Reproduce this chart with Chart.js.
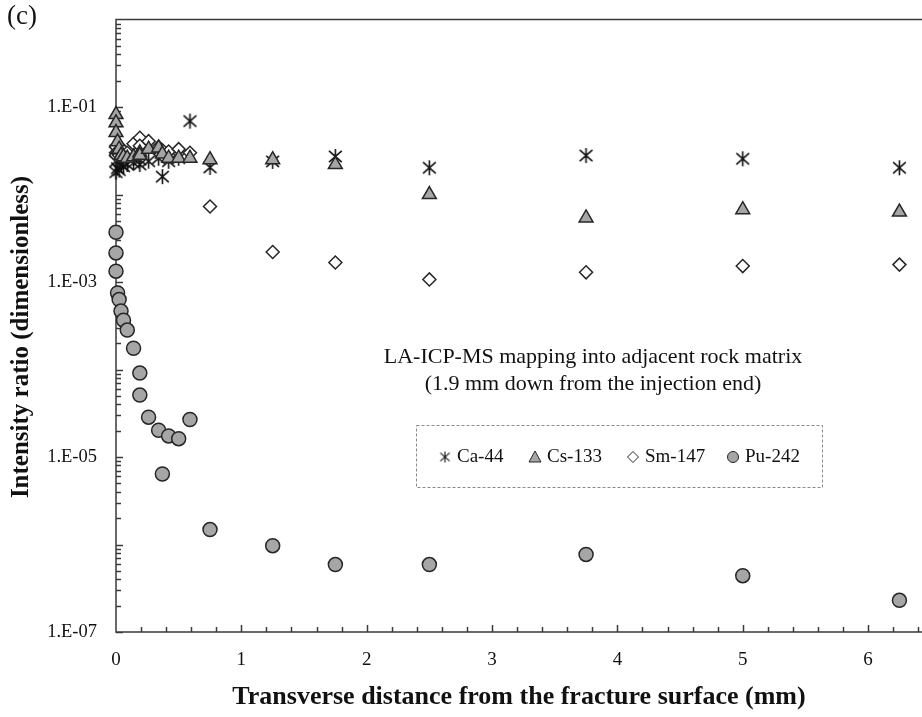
<!DOCTYPE html>
<html lang="en">
<head>
<meta charset="UTF-8" />
<title>LA-ICP-MS mapping into adjacent rock matrix</title>
<!-- Chart.js desde CDN -->
<script src="https://cdn.jsdelivr.net/npm/chart.js@4.4.1/dist/chart.umd.min.js"></script>
<style>
  body { margin: 0; background: #fff; }
  #wrap { position: relative; width: 922px; height: 717px; }
</style>
</head>
<body>
<div id="wrap"><canvas id="chartMapping" width="922" height="717"></canvas></div>
<script>
// distance from the fracture surface (mm), same spots for every isotope
const distance = [0, 0, 0, 0.0125, 0.025, 0.04, 0.06, 0.09, 0.14, 0.19, 0.19, 0.26,
                  0.34, 0.37, 0.42, 0.5, 0.59, 0.75, 1.25, 1.75, 2.5, 3.75, 5.0, 6.25];

// intensity ratios (dimensionless)
const ca44  = [0.032, 0.024, 0.018, 0.020, 0.019, 0.022, 0.021, 0.022, 0.023, 0.022, 0.025, 0.024,
               0.026, 0.016, 0.024, 0.026, 0.069, 0.0204, 0.0239, 0.0272, 0.0202, 0.0279, 0.0256, 0.0202];
const cs133 = [0.082, 0.066, 0.051, 0.040, 0.033, 0.028, 0.027, 0.026, 0.027, 0.030, 0.028, 0.033,
               0.034, 0.029, 0.026, 0.026, 0.026, 0.025, 0.025, 0.022, 0.0100, 0.0054, 0.0067, 0.0063];
const sm147 = [0.035, 0.030, 0.028, 0.030, 0.028, 0.030, 0.032, 0.030, 0.038, 0.0445, 0.036, 0.0407,
               0.035, 0.032, 0.031, 0.033, 0.030, 0.0073, 0.0022, 0.00167, 0.00107, 0.00129, 0.00152, 0.00158];
const pu242 = [3.7e-3, 2.15e-3, 1.33e-3, 7.5e-4, 6.3e-4, 4.65e-4, 3.66e-4, 2.82e-4, 1.75e-4, 9.1e-5, 5.1e-5, 2.85e-5,
               2.02e-5, 6.4e-6, 1.74e-5, 1.62e-5, 2.68e-5, 1.48e-6, 9.7e-7, 5.9e-7, 5.9e-7, 7.7e-7, 4.4e-7, 2.3e-7];

const xTicks = [0, 1, 2, 3, 4, 5, 6];
const yLabels = [1e-1, 1e-3, 1e-5, 1e-7];
const seriesNames = ['Ca-44', 'Cs-133', 'Sm-147', 'Pu-242'];

const serif = '"Liberation Serif", "Times New Roman", serif';
const grey = '#a6a6a6';
const dark = '#262626';

// asterisk marker (vertical bar + X), Chart.js takes a canvas as pointStyle
function makeStar(size, lw) {
    const c = document.createElement('canvas');
    c.width = size; c.height = size;
    const g = c.getContext('2d');
    const m = size / 2, r = size / 2 - 1;
    g.strokeStyle = '#111';
    g.lineWidth = lw;
    g.beginPath();
    g.moveTo(m, m - r); g.lineTo(m, m + r);
    g.moveTo(m - r * 0.85, m - r * 0.75); g.lineTo(m + r * 0.85, m + r * 0.75);
    g.moveTo(m + r * 0.85, m - r * 0.75); g.lineTo(m - r * 0.85, m + r * 0.75);
    g.stroke();
    return c;
}
const star = makeStar(17, 1.6);
const starSmall = makeStar(13, 1.1);

function points(ys) {
    return distance.map((d, i) => ({ x: d, y: ys[i] }));
}

function fmtExp(v) {
    const e = Math.round(Math.log10(v));
    return '1.E' + (e < 0 ? '-' : '+') + String(Math.abs(e)).padStart(2, '0');
}

// box line + inward tick marks, like the original
const frame = {
    id: 'frame',
    beforeDatasetsDraw(chart) {
        const { ctx, chartArea: a, scales: { x, y } } = chart;
        ctx.save();
        ctx.strokeStyle = '#3a3a3a';
        ctx.lineWidth = 1.5;
        ctx.beginPath();
        ctx.moveTo(a.right, a.top); ctx.lineTo(a.left, a.top);
        ctx.lineTo(a.left, a.bottom); ctx.lineTo(a.right, a.bottom);
        for (let e = -7; e < 0; e++) {
            for (let m = 1; m < 10; m++) {
                const py = Math.round(y.getPixelForValue(m * Math.pow(10, e))) + 0.5;
                ctx.moveTo(a.left, py);
                ctx.lineTo(a.left + (m === 1 ? 7 : 5), py);
            }
        }
        for (let i = 1; i * 0.2 < x.max; i++) {
            const px = Math.round(x.getPixelForValue(i * 0.2)) + 0.5;
            ctx.moveTo(px, a.bottom);
            ctx.lineTo(px, a.bottom - (i % 5 === 0 ? 7 : 5));
        }
        ctx.stroke();
        ctx.restore();
    }
};

// y title, text note, dashed legend box and the "(c)" panel letter
const notes = {
    id: 'notes',
    afterDraw(chart) {
        const { ctx } = chart;
        ctx.save();
        ctx.fillStyle = '#111';
        ctx.textBaseline = 'middle';

        ctx.font = '27px ' + serif;
        ctx.textAlign = 'left';
        ctx.fillText('(c)', 7, 17);

        // y axis title sits a bit below the middle of the axis in the original
        ctx.save();
        ctx.translate(22, 337);
        ctx.rotate(-Math.PI / 2);
        ctx.font = 'bold 25px ' + serif;
        ctx.textAlign = 'center';
        ctx.fillText('Intensity ratio (dimensionless)', 0, 0);
        ctx.restore();

        ctx.font = '22px ' + serif;
        ctx.textAlign = 'center';
        ctx.fillText('LA-ICP-MS mapping into adjacent rock matrix', 593, 357);
        ctx.fillText('(1.9 mm down from the injection end)', 593, 384);

        ctx.strokeStyle = '#8a8a8a';
        ctx.lineWidth = 1;
        ctx.setLineDash([3, 2]);
        ctx.strokeRect(416.5, 425.5, 406, 62);
        ctx.setLineDash([]);

        const ly = 457;
        const mx = [445, 535, 633, 733];
        ctx.font = '19px ' + serif;
        ctx.textAlign = 'left';
        seriesNames.forEach((name, i) => {
            ctx.fillStyle = '#111';
            ctx.fillText(name, mx[i] + 12, ly);
        });
        // legend symbols
        ctx.drawImage(starSmall, mx[0] - 6.5, ly - 6.5);
        ctx.lineWidth = 1;
        ctx.strokeStyle = dark;
        ctx.fillStyle = grey;
        ctx.beginPath();
        ctx.moveTo(mx[1], ly - 6); ctx.lineTo(mx[1] + 6, ly + 5); ctx.lineTo(mx[1] - 6, ly + 5);
        ctx.closePath(); ctx.fill(); ctx.stroke();
        ctx.fillStyle = '#fff';
        ctx.beginPath();
        ctx.moveTo(mx[2], ly - 5.5); ctx.lineTo(mx[2] + 5.5, ly); ctx.lineTo(mx[2], ly + 5.5); ctx.lineTo(mx[2] - 5.5, ly);
        ctx.closePath(); ctx.fill(); ctx.stroke();
        ctx.fillStyle = grey;
        ctx.beginPath();
        ctx.arc(mx[3], ly, 5.5, 0, Math.PI * 2);
        ctx.fill(); ctx.stroke();
        ctx.restore();
    }
};

new Chart(document.getElementById('chartMapping'), {
    type: 'scatter',
    data: {
        datasets: [
            {
                label: seriesNames[0], data: points(ca44), order: 3, clip: false,
                pointStyle: star, pointRadius: 7
            },
            {
                label: seriesNames[1], data: points(cs133), order: 1, clip: false,
                pointStyle: 'triangle', pointRadius: 8, borderWidth: 1.5,
                backgroundColor: grey, borderColor: dark
            },
            {
                label: seriesNames[2], data: points(sm147), order: 2, clip: false,
                pointStyle: 'rectRot', pointRadius: 6.5, borderWidth: 1.5,
                backgroundColor: '#fff', borderColor: dark
            },
            {
                label: seriesNames[3], data: points(pu242), order: 0, clip: false,
                pointStyle: 'circle', pointRadius: 7, borderWidth: 1.5,
                backgroundColor: grey, borderColor: dark
            }
        ]
    },
    options: {
        responsive: false,
        animation: false,
        layout: { autoPadding: false, padding: { top: 19.5, right: 0, bottom: 0, left: 0 } },
        plugins: {
            legend: { display: false },
            tooltip: { enabled: false }
        },
        scales: {
            x: {
                type: 'linear',
                min: 0,
                max: 6.43,
                grid: { display: false, drawTicks: false },
                border: { display: false },
                afterBuildTicks: (s) => { s.ticks = xTicks.map((v) => ({ value: v })); },
                afterFit: (s) => { s.height = 85; s.paddingLeft = 0; s.paddingRight = 0; },
                ticks: {
                    color: '#111',
                    padding: 17,
                    font: { family: serif, size: 19 }
                },
                title: {
                    display: true,
                    text: 'Transverse distance from the fracture surface (mm)',
                    color: '#111',
                    padding: { top: 0, bottom: 4 },
                    font: { family: serif, size: 26, weight: 'bold' }
                }
            },
            y: {
                type: 'logarithmic',
                min: 1e-7,
                max: 1,
                grid: { display: false, drawTicks: false },
                border: { display: false },
                afterBuildTicks: (s) => { s.ticks = yLabels.map((v) => ({ value: v })); },
                afterFit: (s) => { s.width = 116; s.paddingTop = 0; s.paddingBottom = 0; },
                ticks: {
                    color: '#111',
                    padding: 19,
                    autoSkip: false,
                    font: { family: serif, size: 18.5 },
                    callback: (v) => fmtExp(v)
                }
            }
        }
    },
    plugins: [frame, notes]
});
</script>
</body>
</html>
